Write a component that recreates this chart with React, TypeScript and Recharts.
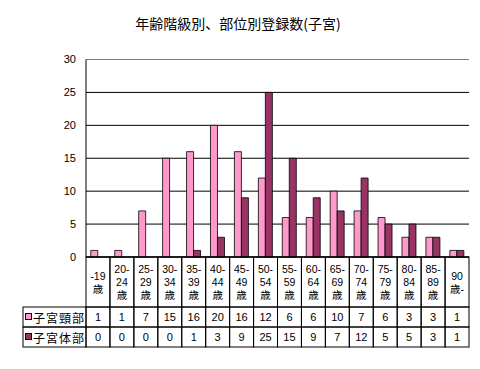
import { BarChart, Bar, XAxis, YAxis, CartesianGrid, ReferenceLine } from "recharts";

const categories = [
  "-19\n歳", "20-\n24\n歳", "25-\n29\n歳", "30-\n34\n歳", "35-\n39\n歳", "40-\n44\n歳",
  "45-\n49\n歳", "50-\n54\n歳", "55-\n59\n歳", "60-\n64\n歳", "65-\n69\n歳", "70-\n74\n歳",
  "75-\n79\n歳", "80-\n84\n歳", "85-\n89\n歳", "90\n歳-",
];
const cervix = [1, 1, 7, 15, 16, 20, 16, 12, 6, 6, 10, 7, 6, 3, 3, 1];
const corpus = [0, 0, 0, 0, 1, 3, 9, 25, 15, 9, 7, 12, 5, 5, 3, 1];
const yTicks = [0, 5, 10, 15, 20, 25, 30];

const seriesNames = ["子宮頸部", "子宮体部"];
const seriesColors = ["#FF99CC", "#993366"];
const seriesValues = [cervix, corpus];

const data = categories.map((cat, i) => ({
  cat,
  [seriesNames[0]]: cervix[i],
  [seriesNames[1]]: corpus[i],
}));

const W = 480;
const H = 369;
const PLOT_LEFT = 86;
const PLOT_RIGHT = 469;
const BAND = (PLOT_RIGHT - PLOT_LEFT) / categories.length;
const FONT = "'Noto Sans CJK JP', sans-serif";
const CELL_FONT = "'Liberation Sans', 'Noto Sans CJK JP', sans-serif";

function CategoryCell(props: any) {
  const { x, y, payload } = props;
  const lines = String(payload.value).split("\n");
  const h = 50;
  const lh = 13;
  const top = y + h / 2 - ((lines.length - 1) * lh) / 2;
  return (
    <g>
      <rect x={x - BAND / 2} y={y} width={BAND} height={h} fill="none" stroke="#000" strokeWidth={1} />
      <text x={x} y={top} textAnchor="middle" dominantBaseline="central"
        fontSize={10.5} fontFamily={CELL_FONT} fill="#000">
        {lines.map((l, i) => (
          <tspan key={i} x={x} dy={i === 0 ? 0 : lh}>{l}</tspan>
        ))}
      </text>
    </g>
  );
}

function makeValueCell(s: number) {
  return function ValueCell(props: any) {
    const { x, y, index } = props;
    const h = 20;
    return (
      <g>
        {index === 0 && (
          <g>
            <rect x={23} y={y} width={x - BAND / 2 - 23} height={h} fill="none" stroke="#000" strokeWidth={1} />
            <rect x={25.5} y={y + 6.5} width={6} height={6} fill={seriesColors[s]} stroke="#000" strokeWidth={1} />
            <text x={33} y={y + h / 2} dominantBaseline="central" fontSize={12} letterSpacing={1}
              fontFamily={FONT} fill="#000">
              {seriesNames[s]}
            </text>
          </g>
        )}
        <rect x={x - BAND / 2} y={y} width={BAND} height={h} fill="none" stroke="#000" strokeWidth={1} />
        <text x={x} y={y + h / 2} textAnchor="middle" dominantBaseline="central" fontSize={11}
          fontFamily={CELL_FONT} fill="#000">
          {seriesValues[s][index]}
        </text>
      </g>
    );
  };
}

export default function App() {
  return (
    <div style={{ position: "absolute", left: 0, top: 0, width: W, height: H, background: "#fff" }}>
      <div
        style={{
          position: "absolute",
          left: 0,
          top: 13,
          width: W - 4,
          textAlign: "center",
          fontFamily: FONT,
          fontSize: 14,
          color: "#000",
          lineHeight: "20px",
        }}
      >
        年齢階級別、部位別登録数(子宮)
      </div>
      <BarChart
        width={W}
        height={H}
        data={data}
        margin={{ top: 59.5, right: W - PLOT_RIGHT, bottom: 22, left: 0 }}
        barCategoryGap="20%"
        barGap={0}
      >
        <CartesianGrid vertical={false} stroke="#000" yAxisId="left" xAxisId="cat" />
        <XAxis
          xAxisId="cat"
          dataKey="cat"
          height={50}
          axisLine={{ stroke: "#000" }}
          tickLine={false}
          tickSize={0}
          tickMargin={0}
          interval={0}
          tick={<CategoryCell />}
        />
        <XAxis xAxisId="v0" dataKey="cat" height={20} axisLine={false} tickLine={false}
          tickSize={0} tickMargin={0} interval={0} tick={makeValueCell(0)} />
        <XAxis xAxisId="v1" dataKey="cat" height={20} axisLine={false} tickLine={false}
          tickSize={0} tickMargin={0} interval={0} tick={makeValueCell(1)} />
        <YAxis
          yAxisId="left"
          width={PLOT_LEFT}
          domain={[0, 30]}
          ticks={yTicks}
          interval={0}
          axisLine={{ stroke: "#000" }}
          tickLine={false}
          tickSize={6}
          tickMargin={4}
          tick={{ fontSize: 11, fill: "#000", fontFamily: CELL_FONT }}
        />
        <YAxis
          yAxisId="right"
          orientation="right"
          width={0}
          domain={[0, 30]}
          tick={false}
          tickLine={false}
          axisLine={{ stroke: "#808080" }}
        />
        <ReferenceLine yAxisId="left" xAxisId="cat" y={30} stroke="#808080" />
        {seriesNames.map((name, s) => (
          <Bar
            key={name}
            dataKey={name}
            xAxisId="cat"
            yAxisId="left"
            fill={seriesColors[s]}
            stroke="#000"
            strokeWidth={0.8}
            isAnimationActive={false}
          />
        ))}
      </BarChart>
    </div>
  );
}
